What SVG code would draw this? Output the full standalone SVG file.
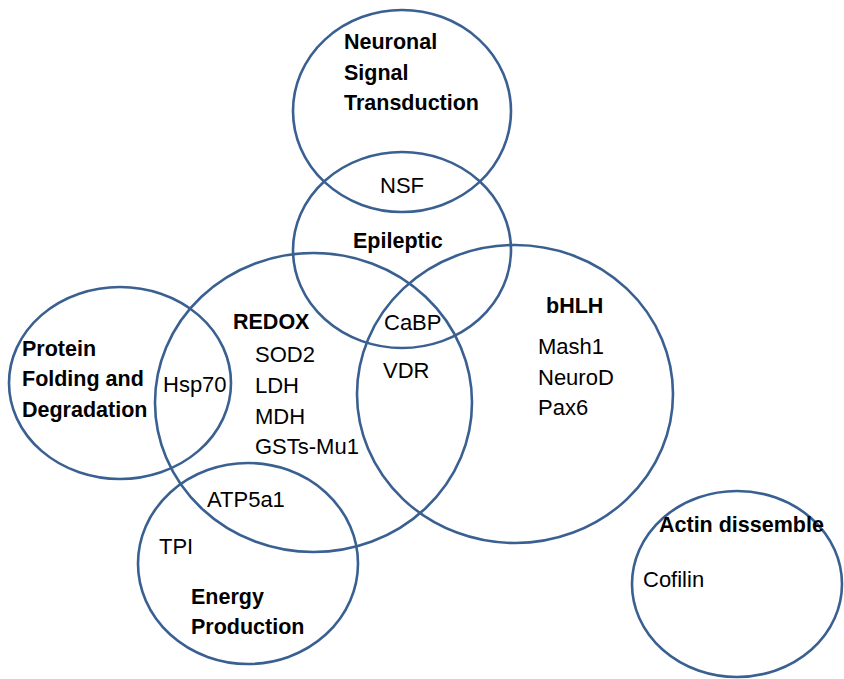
<svg xmlns="http://www.w3.org/2000/svg" width="844" height="679" viewBox="0 0 844 679">
<style>
.c{fill:none;stroke:#3A6091;stroke-width:2.6}
text{font-family:"Liberation Sans",Arial,sans-serif;font-size:22px;fill:#000}
.b{font-weight:bold;font-size:21.5px}
</style>
<rect width="844" height="679" fill="#fff"/>
<g id="neuronal"><ellipse class="c" cx="402" cy="111" rx="109" ry="101"/>
<text class="b" x="344" y="49">Neuronal</text><text class="b" x="344" y="80">Signal</text><text class="b" x="344" y="110">Transduction</text></g>
<g id="epileptic"><ellipse class="c" cx="402" cy="250" rx="109" ry="98"/>
<text class="b" x="353" y="248">Epileptic</text></g>
<g id="redox"><ellipse class="c" cx="313.5" cy="402.5" rx="158.5" ry="149.5"/>
<text class="b" x="233" y="329">REDOX</text>
<text x="255" y="362">SOD2</text><text x="255" y="393">LDH</text><text x="255" y="424">MDH</text><text x="255" y="454">GSTs-Mu1</text></g>
<g id="bhlh"><ellipse class="c" cx="515" cy="394" rx="158" ry="149"/>
<text class="b" x="546" y="313">bHLH</text>
<text x="538" y="354">Mash1</text><text x="538" y="385">NeuroD</text><text x="538" y="415">Pax6</text></g>
<g id="protein"><ellipse class="c" cx="120" cy="383" rx="111" ry="96"/>
<text class="b" x="22" y="356">Protein</text><text class="b" x="22" y="386">Folding and</text><text class="b" x="22" y="417">Degradation</text></g>
<g id="energy"><ellipse class="c" cx="248" cy="563.5" rx="110" ry="100.5"/>
<text class="b" x="191" y="604">Energy</text><text class="b" x="191" y="634">Production</text></g>
<g id="actin"><ellipse class="c" cx="737" cy="584" rx="105" ry="93"/>
<text class="b" x="659" y="532">Actin dissemble</text><text x="643" y="587">Cofilin</text></g>
<g id="overlap-labels">
<text x="380" y="193">NSF</text>
<text x="384" y="330">CaBP</text>
<text x="383" y="378">VDR</text>
<text x="163" y="392">Hsp70</text>
<text x="207" y="507">ATP5a1</text>
<text x="159" y="554">TPI</text>
</g>
<g id="connectors"/>
</svg>
